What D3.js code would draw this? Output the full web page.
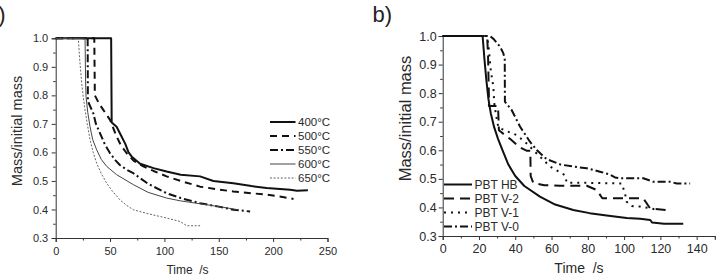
<!DOCTYPE html>
<html>
<head>
<meta charset="utf-8">
<script src="https://cdn.jsdelivr.net/npm/d3@7"></script>
<style>
  body { margin: 0; background: #fff; }
  svg { display: block; font-family: Arial, "Liberation Sans", sans-serif; }
</style>
</head>
<body>
<svg id="chart" width="723" height="278"></svg>
<script>
// ---- data: [time (s), mass / initial mass] ----
const temps = ["400°C", "500°C", "550°C", "600°C", "650°C"];

const t400 = [[0,1],[51,1],[51.5,0.705],[56,0.69],[60,0.66],[64,0.63],[67,0.60],[70,0.585],[77.6,0.56],[90,0.545],[102,0.533],[115,0.522],[132.8,0.516],[145,0.50],[163.4,0.492],[180,0.482],[194,0.475],[215.6,0.469],[222,0.466],[232,0.467]];
const t500 = [[0,1],[35.5,1],[36,0.80],[40,0.77],[43.8,0.749],[50,0.714],[56,0.656],[60,0.625],[65.3,0.597],[72,0.57],[80.6,0.551],[90,0.535],[102,0.516],[115,0.50],[132.8,0.48],[150,0.47],[163.4,0.463],[180,0.457],[194,0.452],[210,0.443],[218.7,0.437]];
const t550 = [[0,1],[29.4,1],[29.6,0.78],[34.6,0.737],[37,0.70],[40.8,0.667],[45,0.63],[50,0.597],[55,0.572],[59,0.556],[65,0.54],[71.4,0.527],[85,0.49],[102,0.457],[115,0.44],[132.8,0.422],[150,0.41],[163.4,0.399],[178.8,0.393]];
const t600 = [[0,1],[27,1],[27.5,0.85],[27.9,0.796],[29.5,0.74],[31.6,0.69],[34,0.645],[37.7,0.609],[42,0.575],[46.9,0.551],[56,0.522],[71.4,0.487],[85,0.46],[102,0.44],[115,0.43],[132.8,0.42],[150,0.41],[168,0.399]];
const t650 = [[0,1],[20.8,1],[22,0.93],[23.9,0.843],[25.5,0.79],[27,0.749],[29,0.70],[31.6,0.644],[34.5,0.60],[37.7,0.562],[42,0.525],[46.9,0.492],[52,0.465],[59,0.434],[65,0.415],[71.4,0.399],[85,0.385],[102,0.37],[114.3,0.358],[120.5,0.343],[132.8,0.343]];

const grades = ["PBT HB", "PBT V-2", "PBT V-1", "PBT V-0"];

const pbtHB = [[0,1],[22,1],[23,0.92],[24,0.85],[25.2,0.78],[26.5,0.73],[28.4,0.68],[30.5,0.64],[33,0.60],[36.2,0.55],[40,0.51],[45,0.475],[53.6,0.438],[62,0.41],[72,0.391],[81,0.38],[90.4,0.372],[101.4,0.363],[108.8,0.36],[114.4,0.356],[115.5,0.347],[122,0.343],[132.6,0.343]];
const pbtV2 = [[0,1],[24.5,1],[25,0.93],[25.5,0.78],[25.5,0.755],[30.5,0.755],[31,0.67],[34,0.655],[37.1,0.64],[42.6,0.61],[46.5,0.598],[48.3,0.598],[48.5,0.51],[50,0.485],[56,0.478],[64.7,0.476],[79.4,0.476],[84.9,0.461],[88,0.432],[110.6,0.432],[114.3,0.397],[123,0.391]];
const pbtV1 = [[0,1],[24.5,1],[25.5,0.95],[26.5,0.88],[27.9,0.823],[28.5,0.76],[29.5,0.72],[30.7,0.68],[33.4,0.672],[40.8,0.653],[46.3,0.624],[51.8,0.589],[59.2,0.543],[67.4,0.513],[68.4,0.486],[81.2,0.486],[98.7,0.484],[100.5,0.449],[101.4,0.42],[104.2,0.405],[108.8,0.403],[114.3,0.397],[118,0.392]];
const pbtV0 = [[0,1],[26,1],[28,0.99],[31.6,0.963],[33.4,0.94],[34.2,0.92],[34.3,0.77],[38,0.741],[42.6,0.683],[48.1,0.63],[52,0.60],[57.3,0.569],[65,0.55],[72,0.543],[79.4,0.537],[86.7,0.525],[92.2,0.515],[95,0.505],[97.7,0.502],[110.6,0.502],[116.1,0.49],[125.3,0.49],[129,0.484],[136.4,0.484]];

const ticksA = [0, 50, 100, 150, 200, 250];
const ticksB = [0, 20, 40, 60, 80, 100, 120, 140];
const ticksY = [0.3, 0.4, 0.5, 0.6, 0.7, 0.8, 0.9, 1.0];

// ---- line styles ----
const styleA = [
  { w: 2,   c: "#111", dash: null },
  { w: 2,   c: "#111", dash: "7,5" },
  { w: 2,   c: "#111", dash: "8,3,2,3" },
  { w: 1,   c: "#444", dash: null },
  { w: 0.9, c: "#555", dash: "2,1.6" }
];
const styleB = [
  { w: 2,   c: "#111", dash: null },
  { w: 2,   c: "#111", dash: "10,6" },
  { w: 2,   c: "#111", dash: "2,5" },
  { w: 2,   c: "#111", dash: "8,3,2,3" }
];

const svg = d3.select("#chart");

function panel(o) {
  const x = d3.scaleLinear().domain(o.xDomain).range([o.left, o.right]);
  const y = d3.scaleLinear().domain([0.3, 1.0]).range([o.bottom, o.top]);
  const g = svg.append("g");

  // minor ticks
  g.append("g")
    .attr("transform", `translate(0,${o.bottom})`)
    .call(d3.axisBottom(x).tickValues(o.xMinor).tickSize(2.5).tickFormat(""))
    .call(a => a.select(".domain").remove());
  g.append("g")
    .attr("transform", `translate(${o.left},0)`)
    .call(d3.axisLeft(y).tickValues(d3.range(0.35, 1.0, 0.1)).tickSize(2.5).tickFormat(""))
    .call(a => a.select(".domain").remove());

  const xa = g.append("g")
    .attr("transform", `translate(0,${o.bottom})`)
    .call(d3.axisBottom(x).tickValues(o.xTicks).tickSizeOuter(0).tickSize(4).tickPadding(o.xPad).tickFormat(d3.format("d")));
  const ya = g.append("g")
    .attr("transform", `translate(${o.left},0)`)
    .call(d3.axisLeft(y).tickValues(ticksY).tickSizeOuter(0).tickSize(4).tickPadding(o.yPad).tickFormat(d3.format(".1f")));
  [xa, ya].forEach(a => {
    a.attr("font-family", null).attr("font-size", o.tickFont);
    a.selectAll("text").attr("fill", "#2a2a2a");
    a.selectAll("line,path").attr("stroke", "#333");
  });
  g.selectAll(".tick line").attr("stroke", "#333");

  const line = d3.line().x(d => x(d[0])).y(d => y(d[1]));
  g.append("g").attr("fill", "none")
    .selectAll("path")
    .data(o.series)
    .join("path")
    .attr("d", d => line(d))
    .attr("stroke", (d, i) => o.styles[i].c)
    .attr("stroke-width", (d, i) => o.styles[i].w)
    .attr("stroke-dasharray", (d, i) => o.styles[i].dash)
    .attr("stroke-linejoin", "round");

  // legend
  const lg = g.append("g");
  const item = lg.selectAll("g")
    .data(o.names)
    .join("g")
    .attr("transform", (d, i) => `translate(0,${o.legY + i * o.legStep})`);
  item.append("line")
    .attr("x1", o.legX1).attr("x2", o.legX2)
    .attr("stroke", (d, i) => o.styles[i].c)
    .attr("stroke-width", (d, i) => o.styles[i].w)
    .attr("stroke-dasharray", (d, i) => o.styles[i].dash);
  item.append("text")
    .attr("x", o.legX2 + 2.5)
    .attr("dy", "0.36em")
    .attr("font-size", o.legFont)
    .attr("fill", "#2a2a2a")
    .text(d => d);

  g.append("text")
    .attr("x", o.xLabel[0]).attr("y", o.xLabel[1])
    .attr("text-anchor", "middle")
    .attr("font-size", o.xLabelFont)
    .attr("fill", "#2a2a2a")
    .style("white-space", "pre")
    .text("Time  /s");
  g.append("text")
    .attr("transform", `translate(${o.yLabel[0]},${o.yLabel[1]}) rotate(-90)`)
    .attr("text-anchor", "middle")
    .attr("font-size", o.yLabelFont)
    .attr("fill", "#2a2a2a")
    .text("Mass/initial mass");
  g.append("text")
    .attr("x", o.tag[0]).attr("y", o.tag[1])
    .attr("text-anchor", o.tag[2])
    .attr("font-size", 22)
    .attr("fill", "#222")
    .text(o.tag[3]);
}

panel({
  xDomain: [0, 250], left: 55.7, right: 327.5, top: 38.3, bottom: 238,
  xTicks: ticksA, xMinor: d3.range(25, 250, 50),
  tickFont: 11, xPad: 5, yPad: 3.5,
  series: [t400, t500, t550, t600, t650], styles: styleA, names: temps,
  legX1: 270, legX2: 295.5, legY: 122, legStep: 14, legFont: 11.5,
  xLabel: [187.5, 274], xLabelFont: 12,
  yLabel: [21.5, 131], yLabelFont: 14.5,
  tag: [5.5, 22, "end", "a)"]
});

panel({
  xDomain: [0, 150], left: 442.7, right: 714.8, top: 36, bottom: 236,
  xTicks: ticksB, xMinor: d3.range(10, 151, 20),
  tickFont: 12.5, xPad: 4, yPad: 2,
  series: [pbtHB, pbtV2, pbtV1, pbtV0], styles: styleB, names: grades,
  legX1: 444, legX2: 472, legY: 184.5, legStep: 14, legFont: 12,
  xLabel: [579, 272.5], xLabelFont: 14,
  yLabel: [410.5, 118.5], yLabelFont: 16.5,
  tag: [372.5, 21.5, "start", "b)"]
});
</script>
</body>
</html>
